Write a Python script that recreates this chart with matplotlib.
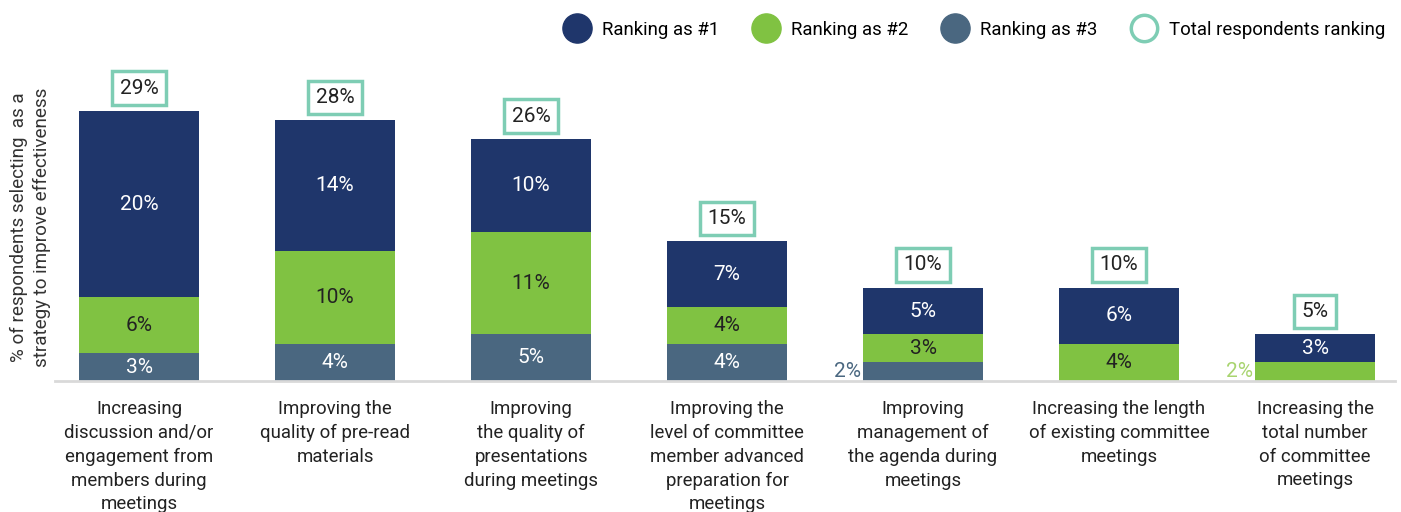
import matplotlib
matplotlib.use("Agg")
import matplotlib.pyplot as plt
from matplotlib.lines import Line2D
import numpy as np

plt.rcParams["font.family"] = ["Roboto", "DejaVu Sans"]

# Data
categories = [
    "Increasing\ndiscussion and/or\nengagement from\nmembers during\nmeetings",
    "Improving the\nquality of pre-read\nmaterials",
    "Improving\nthe quality of\npresentations\nduring meetings",
    "Improving the\nlevel of committee\nmember advanced\npreparation for\nmeetings",
    "Improving\nmanagement of\nthe agenda during\nmeetings",
    "Increasing the length\nof existing committee\nmeetings",
    "Increasing the\ntotal number\nof committee\nmeetings",
]
rank3 = [3, 4, 5, 4, 2, 0, 0]
rank2 = [6, 10, 11, 4, 3, 4, 2]
rank1 = [20, 14, 10, 7, 5, 6, 3]
totals = [29, 28, 26, 15, 10, 10, 5]

NAVY = "#1F366B"
GREEN = "#80C242"
SLATE = "#4A6780"
TEAL = "#7ECDB4"
LIGHT_GREEN = "#A8D46F"
DARK = "#222222"

fig = plt.figure(figsize=(14.01, 5.12), dpi=100)
W, H = 1401, 512
ax = fig.add_axes([55 / W, 1 - 381 / H, (1395 - 55) / W, (381 - 60) / H])

x = np.arange(len(categories))
width = 0.612
r3 = np.array(rank3)
r2 = np.array(rank2)
r1 = np.array(rank1)

ax.bar(x, r3, width, color=SLATE)
ax.bar(x, r2, width, bottom=r3, color=GREEN)
ax.bar(x, r1, width, bottom=r3 + r2, color=NAVY)

ax.set_xlim(-0.429, 6.408)
ax.set_ylim(0, 34.5)

# segment labels
for i in range(len(x)):
    segs = [(r3[i], 0, "white"), (r2[i], r3[i], DARK), (r1[i], r3[i] + r2[i], "white")]
    for k, (v, b, c) in enumerate(segs):
        if v == 0:
            continue
        if v <= 2:
            # small value written beside the bar
            col = SLATE if k == 0 else LIGHT_GREEN
            ax.text(x[i] - width / 2 - 0.01, b + v / 2, f"{v}%", ha="right", va="center",
                    fontsize=15, color=col)
        else:
            ax.text(x[i], b + v / 2, f"{v}%", ha="center", va="center", fontsize=15, color=c)

# total boxes
for i, t in enumerate(totals):
    ax.annotate(f"{t}%", (x[i], r1[i] + r2[i] + r3[i]), xytext=(0, 23),
                textcoords="offset pixels", ha="center", va="center", fontsize=15,
                color=DARK,
                bbox=dict(boxstyle="square,pad=0.35", fc="white", ec=TEAL, lw=2.5))

ax.set_xticks(x)
ax.set_xticklabels(categories, fontsize=13.4, color=DARK, linespacing=1.42, va="top")
ax.tick_params(axis="x", length=0, pad=13.5)
ax.set_yticks([])
for s in ["top", "right", "left"]:
    ax.spines[s].set_visible(False)
ax.spines["bottom"].set_color("#d9d9d9")
ax.spines["bottom"].set_linewidth(2)

fig.text(30 / W, 1 - 227 / H, "% of respondents selecting  as a\nstrategy to improve effectiveness",
         rotation=90, ha="center", va="center", fontsize=13.6, color="#333333", linespacing=1.35)

handles = [
    Line2D([], [], marker="o", ls="", ms=21, mfc=NAVY, mec=NAVY),
    Line2D([], [], marker="o", ls="", ms=21, mfc=GREEN, mec=GREEN),
    Line2D([], [], marker="o", ls="", ms=21, mfc=SLATE, mec=SLATE),
    Line2D([], [], marker="o", ls="", ms=19, mfc="white", mec=TEAL, mew=2.5),
]
labels = ["Ranking as #1", "Ranking as #2", "Ranking as #3", "Total respondents ranking"]
fig.legend(handles, labels, loc="center right", bbox_to_anchor=(1385 / W, 1 - 30 / H), ncol=4,
           frameon=False, fontsize=13.4, handletextpad=0.6, columnspacing=1.85, handlelength=1.4,
           borderaxespad=0, borderpad=0)

fig.savefig("out.png", dpi=100)
